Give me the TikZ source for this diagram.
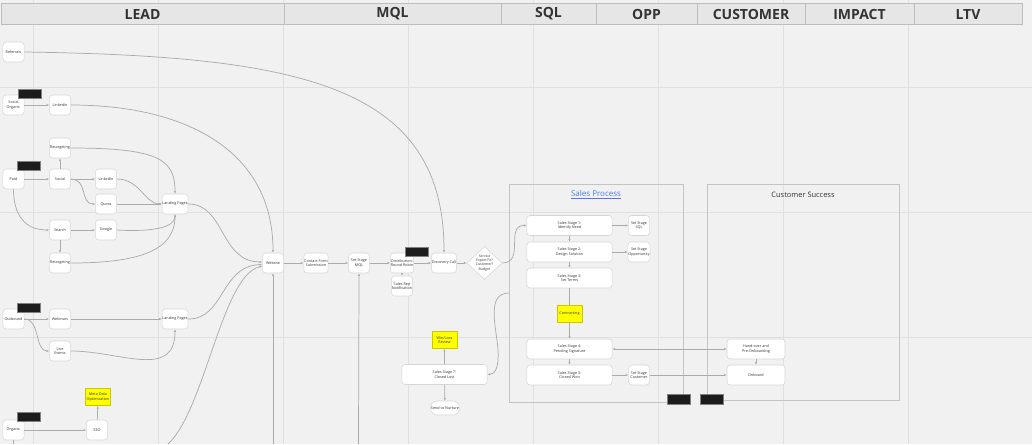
\documentclass[tikz,border=0pt]{standalone}
\usepackage{fontspec}
\setmainfont{Open Sans}
\usetikzlibrary{arrows.meta,shapes.geometric}
\definecolor{bg}{HTML}{F1F1F1}
\definecolor{gridc}{HTML}{E0E0E0}
\definecolor{hdrfill}{HTML}{E6E6E6}
\definecolor{hdrline}{HTML}{BDBDBD}
\definecolor{boxline}{HTML}{D6D6D6}
\definecolor{edgec}{HTML}{ABABAB}
\definecolor{blkfill}{HTML}{1C1C1C}
\definecolor{yelfill}{HTML}{FFFF00}
\definecolor{yelline}{HTML}{C9C900}
\definecolor{frame}{HTML}{C4C4C4}
\definecolor{linkblue}{HTML}{4A7CF0}
\definecolor{txt}{HTML}{333333}
\tikzset{
  box/.style={draw=boxline, fill=white, rounded corners=2.4pt, line width=0.4pt,
    minimum width=15.8pt, minimum height=15pt, inner sep=0.3pt, align=center,
    font=\fontsize{2.8}{3.4}\selectfont, text=txt},
  widebox/.style={box, minimum width=64pt},
  pill/.style={box, rounded corners=5pt, minimum width=21pt, minimum height=10.5pt},
  blk/.style={draw=gray, fill=blkfill, line width=0.5pt, minimum width=17pt, minimum height=7.2pt, inner sep=0pt},
  yel/.style={draw=yelline, fill=yelfill, line width=0.4pt, minimum width=18.8pt, minimum height=12.8pt,
    inner sep=0.3pt, align=center, font=\fontsize{2.8}{3.4}\selectfont, text=txt},
  dec/.style={diamond, draw=boxline, fill=white, line width=0.4pt, minimum width=26.5pt, minimum height=23.5pt,
    inner sep=0pt, align=center, font=\fontsize{2.6}{3.1}\selectfont, text=txt},
  hdr/.style={draw=hdrline, fill=hdrfill, line width=0.5pt},
  hdrtxt/.style={font=\fontsize{10.5}{12}\selectfont\bfseries, text=txt},
  conn/.style={draw=edgec, line width=0.55pt},
  arr/.style={conn, -{Latex[length=2pt,width=1.7pt]}},
  frm/.style={draw=frame, line width=0.6pt},
}
\begin{document}
\begin{tikzpicture}[x=0.75pt,y=-0.75pt]
\useasboundingbox (0,0) rectangle (1032,444);
\fill[bg] (0,0) rectangle (1032,444);
% grid
\foreach \gx in {33,158,283,408,533,658,783,908} \draw[gridc,line width=0.6pt] (\gx,0) -- (\gx,444);
\foreach \gy in {87,212,337} \draw[gridc,line width=0.6pt] (0,\gy) -- (1032,\gy);
% header
\foreach \a/\b/\t in {1/284/LEAD,284/501/MQL,501/596/SQL,596/697/OPP,697/805/CUSTOMER,805/914/IMPACT,914/1022/LTV}{
  \draw[hdr] (\a,3) rectangle (\b,24);
  \node[hdrtxt] at ({(\a+\b)/2},14) {\t};
}
% frames
\draw[frm] (509,184) rectangle (683,402);
\node[font=\fontsize{6}{7}\selectfont, text=linkblue] (sptitle) at (596,195) {\underline{Sales Process}};
\draw[frm] (707,184) rectangle (899,400);
\node[font=\fontsize{5.6}{7}\selectfont, text=txt] (cstitle) at (803,195) {Customer Success};

% LEAD nodes
\node[box] (referrals) at (13.5,52) {Referrals};
\node[box] (socorg) at (13.5,105) {Social\\Organic};
\node[box] (linkedin1) at (60,105) {LinkedIn};
\node[box] (retarget1) at (60,148) {Retargeting};
\node[box] (paid) at (13.5,179) {Paid};
\node[box] (social) at (60,179) {Social};
\node[box] (linkedin2) at (106,179) {LinkedIn};
\node[box] (quora) at (106,204) {Quora};
\node[box] (search) at (60,230) {Search};
\node[box] (google) at (106,230) {Google};
\node[box] (retarget2) at (60,263) {Retargeting};
\node[box] (lp1) at (175,204) {Landing Pages};
\node[box] (outbound) at (13.5,319) {Outbound};
\node[box] (webinars) at (60,319) {Webinars};
\node[box] (live) at (60,351) {Live\\Events};
\node[box] (lp2) at (175,319) {Landing Pages};
\node[yel] (meta) at (98,397) {Meta Data\\Optimization};
\node[box] (seo) at (97,430) {SEO};
\node[box] (organic) at (13.5,430) {Organic};
\node[blk] (blk1) at (29.5,94) {};
\node[blk] (blk2) at (28.5,166) {};
\node[blk] (blk4) at (28.5,308) {};
\node[blk] (blk5) at (28.5,417) {};

% MQL nodes
\node[box] (website) at (273,263) {Website};
\node[box] (contact) at (316,263) {Contact Form\\Submission};
\node[box] (mql) at (359,263) {Set Stage\\MQL};
\node[box] (distrib) at (402,263) {Distribution:\\Round Robin};
\node[box] (salesrep) at (402,286) {Sales Rep\\Notification};
\node[box] (discovery) at (444,263) {Discovery Call};
\node[blk] (blk3) at (416.5,252) {};
\node[dec] (decision) at (484.5,263) {Service\\Expert Fit?\\Customer?\\Budget};
\node[yel] (winloss) at (444.5,340) {Win/Loss\\Review};
\node[widebox] (s7) at (444.5,374.5) {Sales Stage 7:\\Closed Lost};
\node[pill] (nurture) at (445,408) {Send to Nurture};

% Sales process
\node[widebox] (s1) at (569.5,225.5) {Sales Stage 1:\\Identify Need};
\node[widebox] (s2) at (569.5,252) {Sales Stage 2:\\Design Solution};
\node[widebox] (s3) at (569.5,278) {Sales Stage 3:\\Set Terms};
\node[yel] (contract) at (569.5,313.5) {Contracting};
\node[widebox] (s4) at (569.5,349) {Sales Stage 4:\\Pending Signature};
\node[widebox] (s5) at (569.5,375) {Sales Stage 5:\\Closed Won};
\node[box] (sql) at (639,225.5) {Set Stage\\SQL};
\node[box] (opp) at (639,252) {Set Stage\\Opportunity};
\node[box] (cust) at (639,375) {Set Stage\\Customer};
\node[blk] (blk6) at (679,399.5) {};
% Customer success
\node[box, minimum width=43.5pt] (handover) at (756,349) {Hand-over and\\Pre-Onboarding};
\node[box, minimum width=43.5pt] (onboard) at (756,375) {Onboard};
\node[blk] (blk7) at (711.5,399.5) {};

% free ends
\coordinate (orgdown) at (13.5,444);
\coordinate (botcurve) at (168,444);
\coordinate (webdown) at (273,444);
\coordinate (mqldown) at (358.5,444);
\coordinate (spedge) at (509,293);

% LEAD connectors
\draw[arr] (referrals.east) .. controls (300,56) and (444,85) .. (discovery.north);
\draw[arr] (socorg) -- (linkedin1);
\draw[arr] (linkedin1.east) .. controls (185,105) and (273,150) .. (website.north);
\draw[arr] (retarget1.east) .. controls (160,148) and (175,160) .. (lp1.north);
\draw[arr] (social) -- (retarget1);
\draw[arr] (paid) -- (social);
\draw[arr] (paid.south) .. controls (13.5,215) and (25,230) .. (search.west);
\draw[arr] (social) -- (linkedin2);
\draw[arr] (social.east) .. controls (88,179) and (80,204) .. (quora.west);
\draw[arr] (linkedin2.east) .. controls (140,179) and (145,204) .. (lp1.west);
\draw[arr] (quora) -- (lp1);
\draw[arr] (search) -- (google);
\draw[arr] (google.east) .. controls (150,232) and (175,228) .. (lp1.south);
\draw[arr] (search) -- (retarget2);
\draw[arr] (retarget2.east) .. controls (140,263) and (175,250) .. (lp1.south);
\draw[arr] (lp1.east) .. controls (225,204) and (220,262) .. ([yshift=0.8pt]website.west);
\draw[arr] (outbound) -- (webinars);
\draw[arr] (outbound.east) .. controls (40,319) and (35,351) .. (live.west);
\draw[arr] (webinars) -- (lp2);
\draw[arr] (live.east) .. controls (120,351) and (175,380) .. (lp2.south);
\draw[arr] (lp2.east) .. controls (225,319) and (220,266) .. ([yshift=-1.2pt]website.west);
\draw[arr] (organic) -- (seo);
\draw[arr] (seo) -- (meta);
\draw[conn] (organic) -- (orgdown);
\draw[arr] (botcurve) .. controls (205,410) and (222,275) .. ([yshift=-2.4pt]website.west);
\draw[arr] (webdown) -- (website);
\draw[arr] (mqldown) -- (mql.south);

% MQL connectors
\draw[arr] (website) -- (contact);
\draw[arr] (contact) -- (mql);
\draw[arr] (mql) -- (distrib);
\draw[arr] (distrib) -- (salesrep);
\draw[arr] (distrib) -- (discovery);
\draw[arr] (discovery) -- (decision);
\draw[arr] (decision.east) .. controls (525,263) and (505,225) .. (s1.west);
\draw[arr] (spedge) .. controls (485,293) and (497,330) .. (498,350) .. controls (499,368) and (495,374) .. (s7.east);
\draw[arr] (s7) -- (winloss);
\draw[arr] (s7) -- (nurture);

% Sales connectors
\draw[arr] (s1) -- (sql);
\draw[arr] (s2) -- (opp);
\draw[arr] (s1) -- (s2);
\draw[arr] (s2) -- (s3);
\draw[conn] (s3) -- (contract);
\draw[arr] (contract) -- (s4);
\draw[arr] (s4) -- (s5);
\draw[arr] (s5) -- (cust);
\draw[conn, {Latex[length=2pt,width=1.7pt]}-{Latex[length=2pt,width=1.7pt]}] (s4) -- (handover);
\draw[arr] (cust) -- (onboard);
\draw[arr] (handover) -- (onboard);
\end{tikzpicture}
\end{document}
